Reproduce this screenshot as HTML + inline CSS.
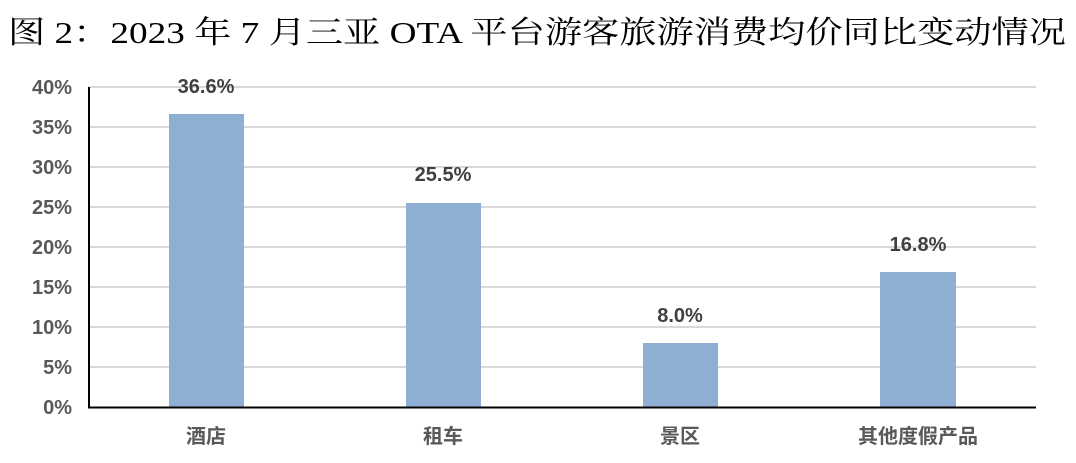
<!DOCTYPE html>
<html><head><meta charset="utf-8"><style>
body{margin:0;background:#fff;width:1076px;height:458px;overflow:hidden}
</style></head><body>
<svg width="1076" height="458" xmlns="http://www.w3.org/2000/svg">
<text x="8" y="43" font-family="'Liberation Serif','Noto Serif CJK SC',serif" font-size="31" fill="#000" textLength="1058" lengthAdjust="spacingAndGlyphs">图 2：2023 年 7 月三亚 OTA 平台游客旅游消费均价同比变动情况</text>
<g stroke="#d9d9d9" stroke-width="2">
<line x1="88" x2="1036" y1="87" y2="87"/><line x1="88" x2="1036" y1="127" y2="127"/>
<line x1="88" x2="1036" y1="167" y2="167"/><line x1="88" x2="1036" y1="207" y2="207"/>
<line x1="88" x2="1036" y1="247" y2="247"/><line x1="88" x2="1036" y1="287" y2="287"/>
<line x1="88" x2="1036" y1="327" y2="327"/><line x1="88" x2="1036" y1="367" y2="367"/>
</g>
<g fill="#8eaed4">
<rect x="169" y="114" width="75" height="293"/>
<rect x="406" y="203" width="75" height="204"/>
<rect x="643" y="343" width="75" height="64"/>
<rect x="880" y="272" width="76" height="135"/>
</g>
<line x1="89" x2="89" y1="87" y2="408" stroke="#000" stroke-width="2"/>
<line x1="88" x2="1036" y1="407.5" y2="407.5" stroke="#000" stroke-width="2"/>
<g font-family="'Liberation Sans','Noto Sans CJK SC',sans-serif" font-weight="bold" font-size="20" fill="#595959" text-anchor="end">
<text x="72" y="94">40%</text><text x="72" y="134">35%</text><text x="72" y="174">30%</text>
<text x="72" y="214">25%</text><text x="72" y="254">20%</text><text x="72" y="294">15%</text>
<text x="72" y="334">10%</text><text x="72" y="374">5%</text><text x="72" y="414">0%</text>
</g>
<g font-family="'Liberation Sans','Noto Sans CJK SC',sans-serif" font-weight="bold" font-size="20" fill="#404040" text-anchor="middle">
<text x="206" y="93">36.6%</text><text x="443" y="181">25.5%</text>
<text x="680" y="322">8.0%</text><text x="918" y="251">16.8%</text>
</g>
<g font-family="'Liberation Sans','Noto Sans CJK SC',sans-serif" font-weight="bold" font-size="20" fill="#595959" text-anchor="middle">
<text x="206" y="443">酒店</text><text x="443" y="443">租车</text>
<text x="680" y="443">景区</text><text x="918" y="443">其他度假产品</text>
</g>
</svg>
</body></html>
